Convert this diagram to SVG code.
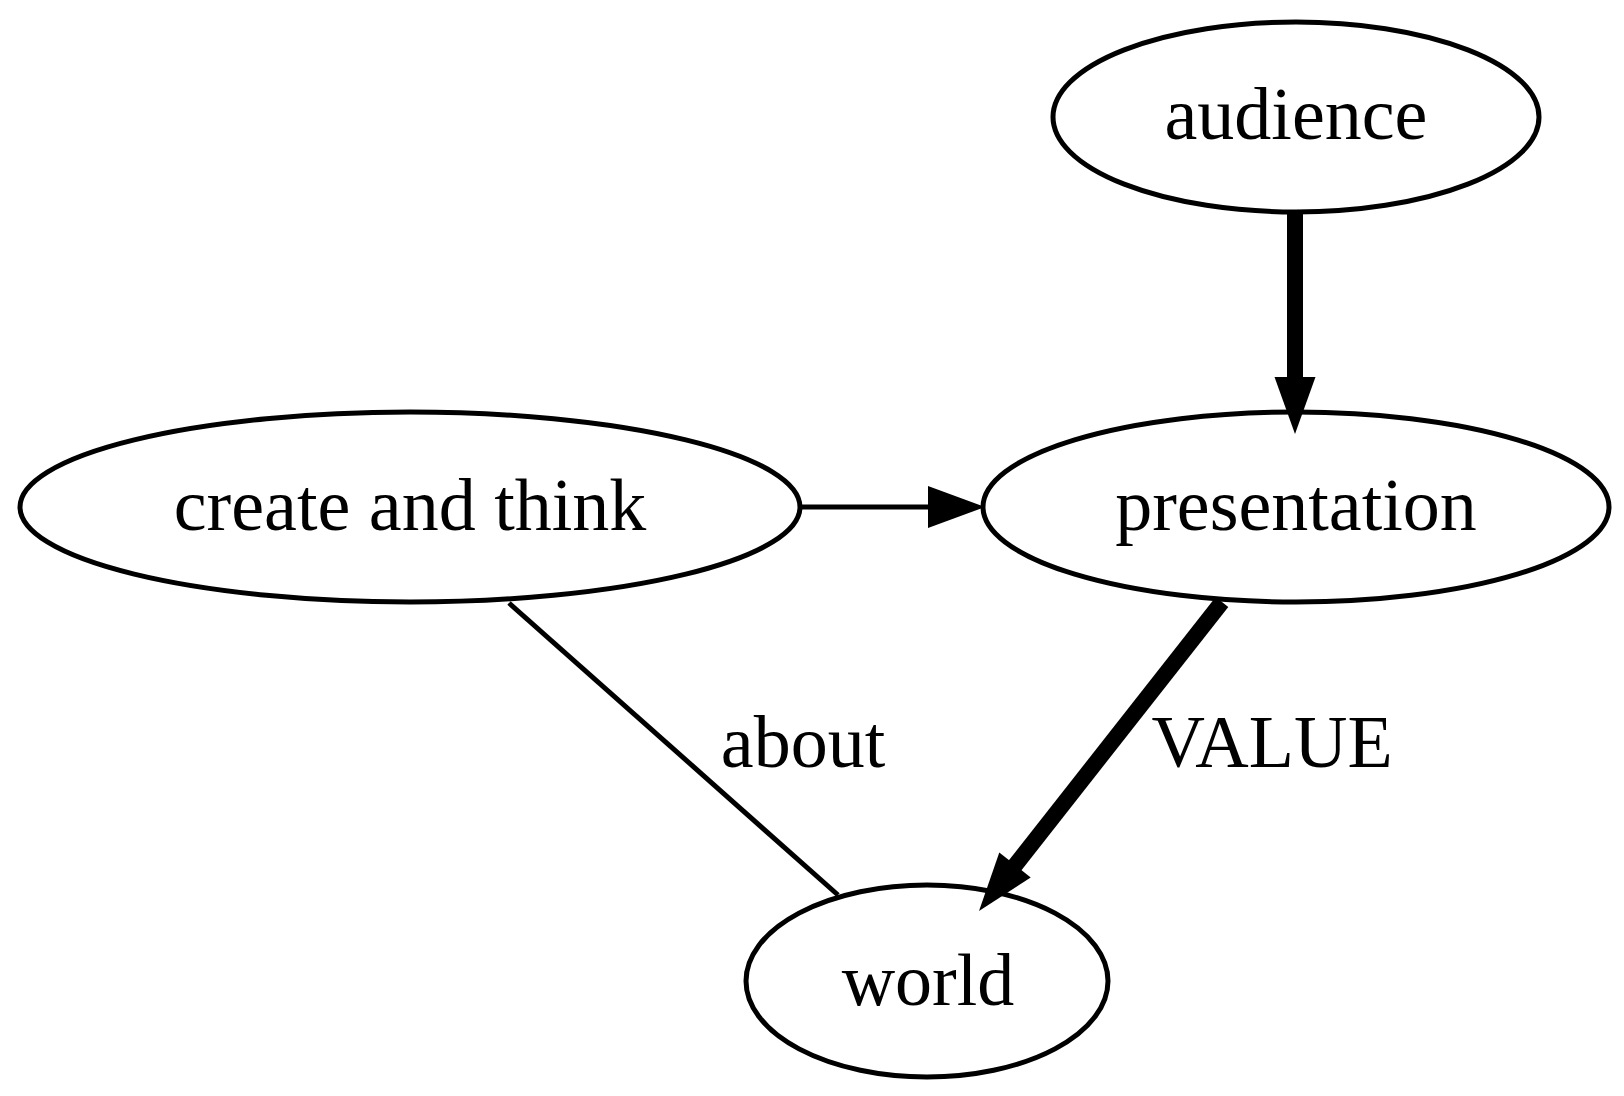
<svg xmlns="http://www.w3.org/2000/svg" width="1624" height="1096" viewBox="0 0 1624 1096">
<style>
.node ellipse{fill:none;stroke:#000;stroke-width:5}
text{font-family:"Liberation Serif","Times New Roman",serif;font-size:74px;fill:#000;text-anchor:middle}
.e{fill:none;stroke:#000;stroke-width:5}
.thick{stroke-width:16}
.ah{fill:#000;stroke:none}
</style>
<rect width="1624" height="1096" fill="#fff"/>
<g id="edges">
<g id="e_audience_presentation"><line class="e thick" x1="1295" y1="212" x2="1295" y2="380"/><polygon class="ah" points="1274.5,377 1295,434 1315.5,377"/></g>
<g id="e_create_presentation"><line class="e" x1="800" y1="507" x2="930" y2="507"/><polygon class="ah" points="928,486 985,507 928,528"/></g>
<g id="e_presentation_world"><line class="e thick" x1="1222" y1="602" x2="1013" y2="868"/><polygon class="ah" points="999.3,852.6 979,911 1030.7,877.4"/><text x="1272" y="767">VALUE</text></g>
<g id="e_create_world"><line class="e" x1="509" y1="603" x2="838" y2="895"/><text x="803" y="767">about</text></g>
</g>
<g id="audience" class="node"><ellipse cx="1296" cy="117" rx="243" ry="95"/><text x="1296" y="139">audience</text></g>
<g id="create_and_think" class="node"><ellipse cx="410" cy="507" rx="390" ry="95"/><text x="410" y="530">create and think</text></g>
<g id="presentation" class="node"><ellipse cx="1296" cy="507" rx="313" ry="95"/><text x="1296" y="530">presentation</text></g>
<g id="world" class="node"><ellipse cx="927" cy="981" rx="181" ry="96"/><text x="928" y="1005">world</text></g>
</svg>
